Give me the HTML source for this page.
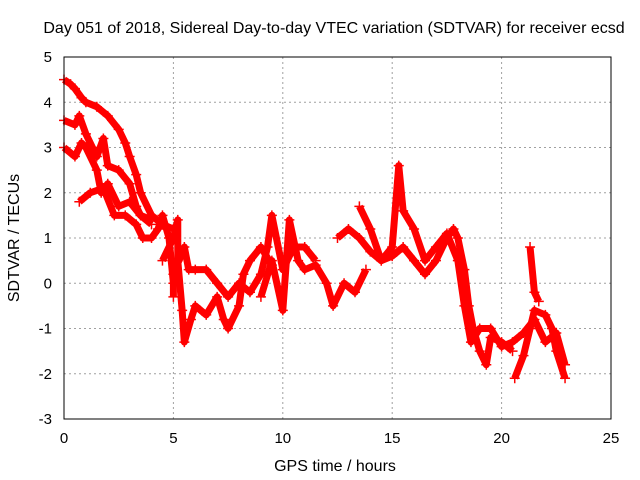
<!DOCTYPE html>
<html><head><meta charset="utf-8"><style>
html,body{margin:0;padding:0;background:#fff;}
svg{display:block;font-family:"Liberation Sans",sans-serif;}
</style></head><body>
<svg id="chart" width="640" height="480">
<text x="334" y="33" font-size="16" text-anchor="middle">Day 051 of 2018, Sidereal Day-to-day VTEC variation (SDTVAR) for receiver ecsd</text>
<text x="0" y="0" font-size="16" text-anchor="middle" transform="translate(19,238) rotate(-90)">SDTVAR / TECUs</text>
<text x="335" y="471" font-size="16" text-anchor="middle">GPS time / hours</text>
<g id="grid"></g><g id="ticks"></g><g id="marks"></g>
<rect x="64" y="57" width="547" height="362" fill="none" stroke="#000" stroke-width="1"/>
</svg>
<script>
const xTicks=[0,5,10,15,20,25];
const yTicks=[-3,-2,-1,0,1,2,3,4,5];
const trackA=[[0,4.5],[0.3,4.4],[0.5,4.3],[0.8,4.1],[1,4.0],[1.5,3.9],[2,3.7],[2.5,3.4],[2.8,3.1],[3,2.8],[3.3,2.4],[3.5,2.0],[4,1.5],[4.5,1.3],[5,1.2]];
const trackB=[[0,3.6],[0.5,3.5],[0.7,3.7],[1,3.3],[1.3,3.0],[1.5,2.8],[1.8,3.2],[2,2.6],[2.5,2.5],[3,2.2],[3.3,1.7],[3.5,1.5],[4,1.4]];
const trackC=[[0,3.0],[0.5,2.8],[0.8,3.1],[1,3.0],[1.5,2.5],[1.7,2.0],[2,2.2],[2.5,1.7],[3,1.8],[3.5,1.5],[4,1.3]];
const trackD=[[0.7,1.8],[1.2,2.0],[1.8,2.1],[2.3,1.5],[2.8,1.5],[3.3,1.3],[3.6,1.0],[4,1.0],[4.3,1.2],[4.5,1.5],[4.8,1.0],[5,0.0],[5,-0.3]];
const trackE=[[4.5,0.5],[5,1.0],[5.2,1.4],[5.2,0.5],[5.4,-0.6],[5.5,-1.3],[5.8,-0.8],[6,-0.5],[6.5,-0.7],[7,-0.3],[7.3,-0.8],[7.5,-1.0],[8,-0.5],[8.2,0.2],[8.5,0.5],[9,0.8],[9.5,0.4]];
const trackF=[[5,0.2],[5.5,0.8],[5.7,0.3],[6,0.3],[6.5,0.3],[7,0],[7.5,-0.3],[8,0],[8.5,-0.2],[9,0.2],[9.3,0.8],[9.5,1.5],[10,0.3],[10.5,0.8],[11,0.8],[11.5,0.5]];
const trackG=[[9,-0.3],[9.5,0.5],[10,-0.6],[10.3,1.4],[10.7,0.5],[11,0.3],[11.5,0.4],[12,0.0],[12.3,-0.5],[12.8,0],[13.3,-0.2],[13.8,0.3]];
const trackH=[[12.5,1.0],[13,1.2],[13.5,1.0],[14,0.7],[14.5,0.5],[15,0.6],[15.5,0.8],[16,0.5],[16.5,0.2],[17,0.5],[17.5,1.0],[17.8,1.2],[18,1.0],[18.3,0.3],[18.5,-0.5],[18.7,-1.0],[19,-1.5],[19.3,-1.8],[19.5,-1.2],[20,-1.3],[20.5,-1.5]];
const trackI=[[13.5,1.7],[14,1.2],[14.5,0.5],[15,0.8],[15.3,2.6],[15.5,1.6],[16,1.2],[16.5,0.5],[17,0.8],[17.5,1.1],[18,0.5],[18.3,-0.5],[18.6,-1.3],[19,-1.0],[19.5,-1.0],[20,-1.4],[20.5,-1.3],[21,-1.1],[21.5,-0.8],[22,-1.3],[22.5,-1.1],[22.9,-1.8]];
const trackJ=[[20.6,-2.1],[21,-1.6],[21.3,-1.0],[21.5,-0.6],[22,-0.7],[22.3,-1.0],[22.5,-1.5],[22.9,-2.1]];
const trackK=[[21.3,0.8],[21.5,-0.2],[21.7,-0.4]];
const tracks=[trackA,trackB,trackC,trackD,trackE,trackF,trackG,trackH,trackI,trackJ,trackK];
const NS="http://www.w3.org/2000/svg";
const X0=64,X1=611,Y0=419,Y1=57;
function sx(v){return X0+(v-0)/(25-0)*(X1-X0);}
function sy(v){return Y0-(v+3)/(5+3)*(Y0-Y1);}
const grid=document.getElementById('grid'),ticks=document.getElementById('ticks'),marks=document.getElementById('marks');
xTicks.forEach(t=>{
 const x=sx(t);
 if(t>0&&t<25){const g=document.createElementNS(NS,'line');
 g.setAttribute('x1',x);g.setAttribute('x2',x);g.setAttribute('y1',Y1);g.setAttribute('y2',Y0);
 g.setAttribute('stroke','#a0a0a0');g.setAttribute('stroke-dasharray','2,3');
 
 
 grid.appendChild(g);}
 const tx=document.createElementNS(NS,'text');
 tx.setAttribute('x',x);tx.setAttribute('y',443);tx.setAttribute('font-size','15');tx.setAttribute('text-anchor','middle');
 tx.textContent=t;
 
 
 ticks.appendChild(tx);
});
yTicks.forEach(t=>{
 const y=sy(t);
 if(t>-3&&t<5){const g=document.createElementNS(NS,'line');
 g.setAttribute('x1',X0);g.setAttribute('x2',X1);g.setAttribute('y1',y);g.setAttribute('y2',y);
 g.setAttribute('stroke','#a0a0a0');g.setAttribute('stroke-dasharray','2,3');
 
 
 grid.appendChild(g);}
 const tx=document.createElementNS(NS,'text');
 tx.setAttribute('x',52);tx.setAttribute('y',y+5);tx.setAttribute('font-size','15');tx.setAttribute('text-anchor','end');
 tx.textContent=t;
 
 
 ticks.appendChild(tx);
});
tracks.forEach(tr=>{
 const p=document.createElementNS(NS,'polyline');
 p.setAttribute('points',tr.map(d=>sx(d[0])+','+sy(d[1])).join(' '));
 p.setAttribute('fill','none');p.setAttribute('stroke','#ff0000');p.setAttribute('stroke-width','7');p.setAttribute('stroke-linejoin','round');
 
 
 marks.appendChild(p);
 tr.forEach(d=>{
  const x=sx(d[0]),y=sy(d[1]);
  const m=document.createElementNS(NS,'path');
  m.setAttribute('d',`M${x-5},${y}H${x+5}M${x},${y-5}V${y+5}`);
  m.setAttribute('stroke','#ff0000');m.setAttribute('stroke-width','1.5');
  
  
  marks.appendChild(m);
 });
});
</script>
</body></html>
